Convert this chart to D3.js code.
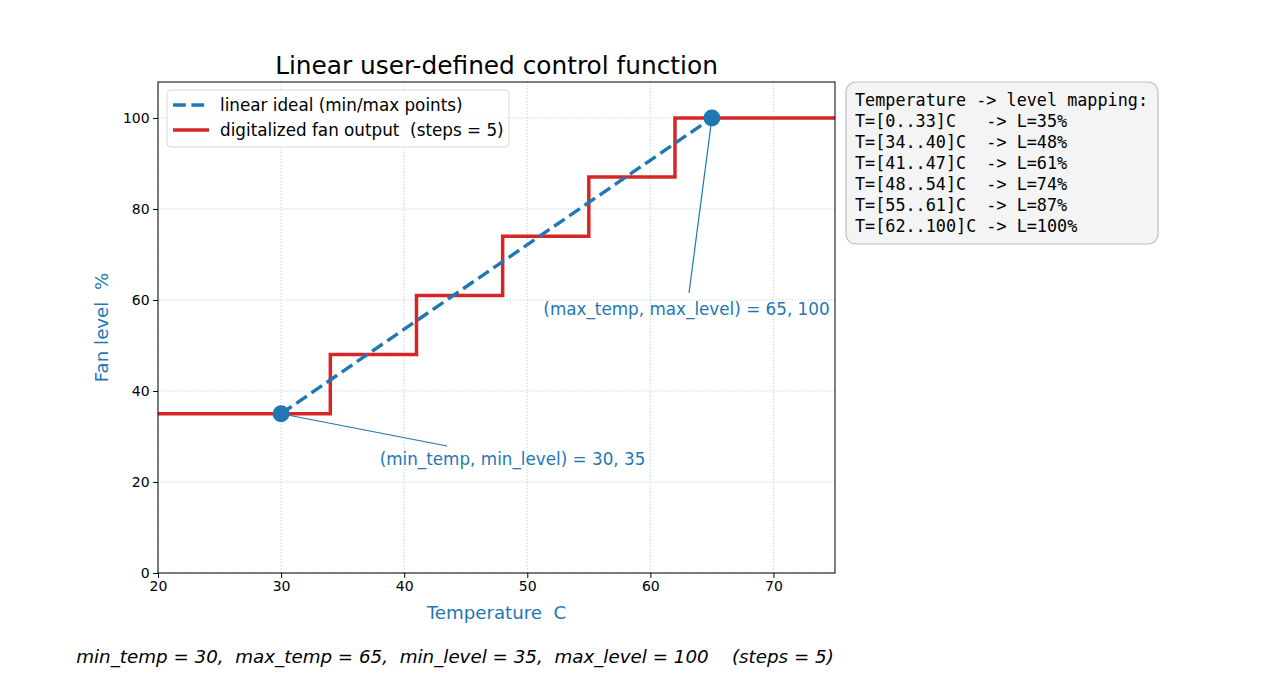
<!DOCTYPE html>
<html>
<head>
<meta charset="utf-8">
<script src="https://cdn.jsdelivr.net/npm/d3@7"></script>
<style>
  body { margin: 0; background: #fff; }
  text { font-family: "DejaVu Sans", sans-serif; white-space: pre; }
  text.mono { font-family: "DejaVu Sans Mono", monospace; }
</style>
</head>
<body>
<svg id="chart" width="1265" height="682"></svg>
<script>
// chart data
var minTemp = 30, maxTemp = 65, minLevel = 35, maxLevel = 100, steps = 5;
var idealPoints = [[30, 35], [65, 100]];
var stepTemps = [20, 34, 41, 48, 55, 62, 75];
var stepLevels = [35, 48, 61, 74, 87, 100, 100];
var xTicks = [20, 30, 40, 50, 60, 70];
var yTicks = [0, 20, 40, 60, 80, 100];
var mappingLines = [
  "Temperature -> level mapping:",
  "T=[0..33]C   -> L=35%",
  "T=[34..40]C  -> L=48%",
  "T=[41..47]C  -> L=61%",
  "T=[48..54]C  -> L=74%",
  "T=[55..61]C  -> L=87%",
  "T=[62..100]C -> L=100%"
];

var blue = "#1f77b4", red = "#d62728";
var mLeft = 158, mTop = 82, W = 677, H = 491;

var svg = d3.select("#chart");
var x = d3.scaleLinear().domain([20, 75]).range([0, W]);
var y = d3.scaleLinear().domain([0, 107.9]).range([H, 0]);

var g = svg.append("g").attr("transform", "translate(" + mLeft + "," + mTop + ")");

// grid
g.append("g").selectAll("line").data(xTicks).join("line")
  .attr("x1", d => x(d)).attr("x2", d => x(d)).attr("y1", 0).attr("y2", H)
  .attr("stroke", "#a9c9e2").attr("stroke-width", 0.9).attr("stroke-dasharray", "1.2,2");
g.append("g").selectAll("line").data(yTicks).join("line")
  .attr("y1", d => y(d)).attr("y2", d => y(d)).attr("x1", 0).attr("x2", W)
  .attr("stroke", "#a9c9e2").attr("stroke-width", 0.9).attr("stroke-dasharray", "1.2,2");

// clip
svg.append("clipPath").attr("id", "clip").append("rect").attr("width", W).attr("height", H);
var plot = g.append("g").attr("clip-path", "url(#clip)");

// step line
var stepData = stepTemps.map((t, i) => [t, stepLevels[i]]);
plot.append("path").datum(stepData)
  .attr("d", d3.line().x(d => x(d[0])).y(d => y(d[1])).curve(d3.curveStepAfter))
  .attr("fill", "none").attr("stroke", red).attr("stroke-width", 3.5);

// ideal line
plot.append("path").datum(idealPoints)
  .attr("d", d3.line().x(d => x(d[0])).y(d => y(d[1])))
  .attr("fill", "none").attr("stroke", blue).attr("stroke-width", 3.4)
  .attr("stroke-dasharray", "12.8,5.6");

// annotations
var ann = [
  {p: idealPoints[0], tx: 512.5, ty: 465, lx: 447, ly: 446, text: "(min_temp, min_level) = 30, " + minLevel},
  {p: idealPoints[1], tx: 686.5, ty: 315, lx: 689, ly: 293, text: "(max_temp, max_level) = " + maxTemp + ", " + maxLevel}
];
ann.forEach(function(a) {
  svg.append("line")
    .attr("x1", mLeft + x(a.p[0])).attr("y1", mTop + y(a.p[1]))
    .attr("x2", a.lx).attr("y2", a.ly)
    .attr("stroke", blue).attr("stroke-width", 1.2);
  svg.append("text").attr("x", a.tx).attr("y", a.ty).attr("text-anchor", "middle")
    .attr("font-size", 16.8).attr("fill", blue).text(a.text);
});

// points
g.selectAll("circle.pt").data(idealPoints).join("circle").attr("class", "pt")
  .attr("cx", d => x(d[0])).attr("cy", d => y(d[1])).attr("r", 8.5).attr("fill", blue);

// axes
var xAxis = g.append("g").attr("transform", "translate(0," + H + ")")
  .call(d3.axisBottom(x).tickValues(xTicks).tickSize(4.9).tickPadding(3.5));
var yAxis = g.append("g")
  .call(d3.axisLeft(y).tickValues(yTicks).tickSize(4.9).tickPadding(3.5));
[xAxis, yAxis].forEach(function(a) {
  a.select(".domain").remove();
  a.selectAll("text").attr("font-size", 14).attr("fill", "#000");
  a.selectAll("line").attr("stroke", "#000").attr("stroke-width", 1);
});
g.append("rect").attr("width", W).attr("height", H).attr("fill", "none")
  .attr("stroke", "#000").attr("stroke-width", 1);

// labels
svg.append("text").attr("x", mLeft + W / 2).attr("y", 74).attr("text-anchor", "middle")
  .attr("font-size", 24.8).attr("fill", "#000").text("Linear user-defined control function");
svg.append("text").attr("x", mLeft + W / 2).attr("y", 619).attr("text-anchor", "middle")
  .attr("font-size", 18.2).attr("fill", blue).text("Temperature  C");
svg.append("text").attr("transform", "translate(108," + (mTop + H / 2) + ") rotate(-90)")
  .attr("text-anchor", "middle").attr("font-size", 18.2).attr("fill", blue).text("Fan level  %");
svg.append("text").attr("x", 455).attr("y", 663).attr("text-anchor", "middle")
  .attr("font-size", 18.3).attr("font-style", "italic").attr("fill", "#000")
  .text("min_temp = " + minTemp + ",  max_temp = " + maxTemp + ",  min_level = " + minLevel +
        ",  max_level = " + maxLevel + "    (steps = " + steps + ")");

// legend
var lg = svg.append("g").attr("transform", "translate(167,90)");
lg.append("rect").attr("width", 342).attr("height", 57).attr("rx", 4)
  .attr("fill", "#fff").attr("fill-opacity", 0.8).attr("stroke", "#d9d9d9");
var legendItems = [
  {label: "linear ideal (min/max points)", color: blue, dash: "12.8,5.6"},
  {label: "digitalized fan output  (steps = " + steps + ")", color: red, dash: null}
];
legendItems.forEach(function(it, i) {
  var yy = 15 + i * 25;
  lg.append("line").attr("x1", 6).attr("x2", 42).attr("y1", yy).attr("y2", yy)
    .attr("stroke", it.color).attr("stroke-width", 3.4)
    .attr("stroke-dasharray", it.dash);
  lg.append("text").attr("x", 53).attr("y", yy + 6).attr("font-size", 16.8).attr("fill", "#000").text(it.label);
});

// mapping box
var mb = svg.append("g").attr("transform", "translate(846,82)");
mb.append("rect").attr("width", 312).attr("height", 162).attr("rx", 10)
  .attr("fill", "#f4f4f4").attr("stroke", "#bfbfbf").attr("stroke-width", 1.2);
mb.selectAll("text").data(mappingLines).join("text").attr("class", "mono")
  .attr("x", 9).attr("y", (d, i) => 24 + i * 21)
  .attr("font-size", 16.8).attr("fill", "#000").text(d => d);
</script>
</body>
</html>
